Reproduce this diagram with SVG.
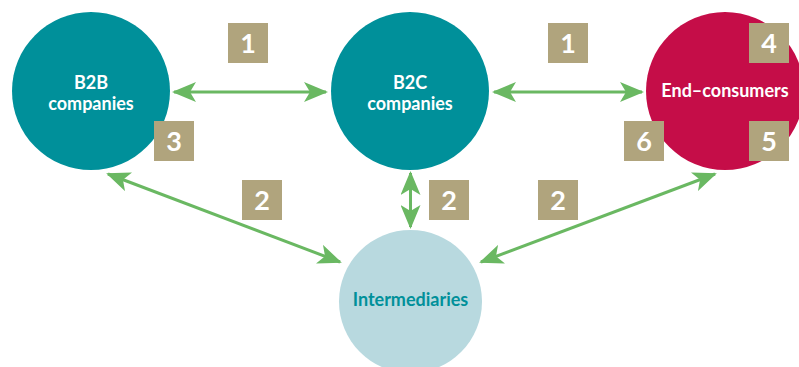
<svg xmlns="http://www.w3.org/2000/svg" width="799" height="367" viewBox="0 0 799 367">
  <style>
    .teal { fill: #00909a; }
    .red { fill: #c50d48; }
    .pale { fill: #b8d9df; }
    .box { fill: #b0a47d; }
    .lbl { font-family: Lato, "Open Sans", sans-serif; font-weight: bold; font-size: 18px; fill: #ffffff; text-anchor: middle; }
    .num { font-family: Lato, "Open Sans", sans-serif; font-weight: bold; font-size: 27px; fill: #ffffff; text-anchor: middle; }
    .link { stroke: #6ab862; stroke-width: 3; fill: none; marker-start: url(#head); marker-end: url(#head); }
  </style>
  <defs>
    <marker id="head" viewBox="0 0 24 20" refX="22" refY="10" markerWidth="24" markerHeight="20" markerUnits="userSpaceOnUse" orient="auto-start-reverse">
      <path d="M0,0 L24,10 L0,20 L6,10 Z" fill="#6ab862"/>
    </marker>
  </defs>

  <g id="connectors">
    <line class="link" x1="174" y1="92" x2="326" y2="92"/>
    <line class="link" x1="494" y1="92" x2="642" y2="92"/>
    <line class="link" x1="108" y1="174" x2="340" y2="262"/>
    <line class="link" x1="410.5" y1="173" x2="410.5" y2="227"/>
    <line class="link" x1="715" y1="174" x2="481" y2="262"/>
  </g>

  <g id="b2b">
    <circle class="teal" cx="91" cy="91" r="79"/>
    <text class="lbl" x="91" y="89">B2B</text>
    <text class="lbl" x="91" y="110">companies</text>
  </g>

  <g id="b2c">
    <circle class="teal" cx="410" cy="91" r="79"/>
    <text class="lbl" x="410" y="89">B2C</text>
    <text class="lbl" x="410" y="110">companies</text>
  </g>

  <g id="end-consumers">
    <circle class="red" cx="725" cy="91" r="79"/>
    <text class="lbl" x="725" y="97">End–consumers</text>
  </g>

  <g id="intermediaries">
    <circle class="pale" cx="410.5" cy="301.5" r="71.5"/>
    <text class="lbl" x="410.5" y="306" style="fill:#00909a">Intermediaries</text>
  </g>

  <g id="labels">
    <rect class="box" x="228" y="23" width="40" height="40"/>
    <text class="num" x="248" y="53">1</text>
    <rect class="box" x="548" y="23" width="40" height="40"/>
    <text class="num" x="568" y="53">1</text>
    <rect class="box" x="749" y="23" width="40" height="40"/>
    <text class="num" x="769" y="53">4</text>
    <rect class="box" x="154" y="121" width="40" height="40"/>
    <text class="num" x="174" y="151">3</text>
    <rect class="box" x="624" y="121" width="40" height="40"/>
    <text class="num" x="644" y="151">6</text>
    <rect class="box" x="749" y="121" width="40" height="40"/>
    <text class="num" x="769" y="151">5</text>
    <rect class="box" x="242" y="180" width="40" height="40"/>
    <text class="num" x="262" y="210">2</text>
    <rect class="box" x="429" y="180" width="40" height="40"/>
    <text class="num" x="449" y="210">2</text>
    <rect class="box" x="538" y="180" width="40" height="40"/>
    <text class="num" x="558" y="210">2</text>
  </g>
</svg>
